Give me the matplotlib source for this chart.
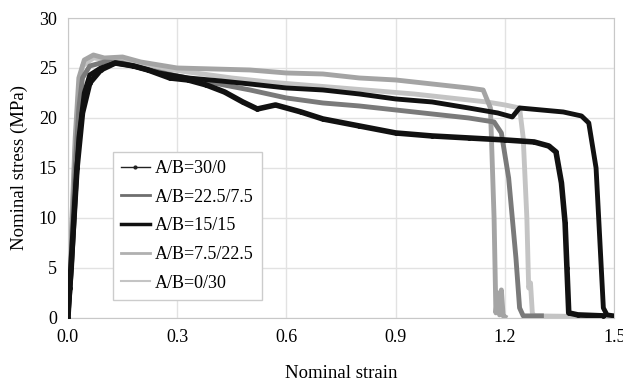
import matplotlib
matplotlib.use('Agg')
import matplotlib.pyplot as plt
from matplotlib.lines import Line2D

plt.rcParams['font.family'] = ['Liberation Serif', 'DejaVu Serif']

# A/B=30/0 (black, with markers)
strain_30_0 = [0.0, 0.005, 0.015, 0.025, 0.04, 0.06, 0.09, 0.13, 0.18, 0.22, 0.28, 0.33, 0.38,
               0.43, 0.48, 0.52, 0.57, 0.64, 0.7, 0.8, 0.9, 1.0, 1.1, 1.2, 1.28, 1.32, 1.34,
               1.355, 1.365, 1.37, 1.375, 1.4, 1.47]
stress_30_0 = [0, 3, 9, 15, 20.5, 23.5, 24.8, 25.5, 25.2, 24.8, 24.0, 23.8, 23.3,
               22.6, 21.6, 20.9, 21.3, 20.6, 19.9, 19.2, 18.5, 18.2, 18.0, 17.8, 17.6, 17.2, 16.6,
               13.5, 9.5, 5, 0.5, 0.3, 0.2]

# A/B=22.5/7.5 (mid grey)
strain_22_5 = [0.0, 0.01, 0.02, 0.03, 0.04, 0.06, 0.1, 0.15, 0.2, 0.3, 0.4, 0.5, 0.6, 0.7,
               0.8, 0.9, 1.0, 1.1, 1.17, 1.19, 1.21, 1.23, 1.24, 1.25, 1.3]
stress_22_5 = [0, 7, 15, 21, 24, 25.2, 25.6, 25.5, 25.0, 24.2, 23.5, 22.8, 22.0, 21.5,
               21.2, 20.8, 20.4, 20.0, 19.6, 18.5, 14, 6, 1, 0.2, 0.2]

# A/B=15/15 (black, thick)
strain_15_15 = [0.0, 0.01, 0.02, 0.03, 0.045, 0.06, 0.09, 0.13, 0.18, 0.25, 0.33, 0.42, 0.5,
                0.6, 0.7, 0.8, 0.9, 1.0, 1.1, 1.18, 1.22, 1.24, 1.3, 1.36, 1.41, 1.43, 1.45,
                1.46, 1.47, 1.48, 1.5]
stress_15_15 = [0, 5, 12, 18, 22.5, 24.3, 25.0, 25.5, 25.2, 24.5, 24.0, 23.7, 23.4,
                23.0, 22.8, 22.4, 21.9, 21.6, 21.0, 20.5, 20.1, 21.0, 20.8, 20.6, 20.2, 19.5, 15,
                8, 1, 0.3, 0.2]

# A/B=7.5/22.5 (light grey)
strain_7_5 = [0.0, 0.01, 0.02, 0.03, 0.045, 0.07, 0.1, 0.15, 0.2, 0.3, 0.4, 0.5, 0.6, 0.7,
              0.8, 0.9, 1.0, 1.1, 1.14, 1.16, 1.17, 1.175, 1.18, 1.185, 1.19, 1.195, 1.2]
stress_7_5 = [0, 9, 18, 24, 25.8, 26.3, 26.0, 26.1, 25.6, 25.0, 24.9, 24.8, 24.5, 24.4,
              24.0, 23.8, 23.4, 23.0, 22.8, 21, 10, 0.5, 2.5, 0.3, 2.8, 0.2, 0.1]

# A/B=0/30 (lightest grey)
strain_0_30 = [0.0, 0.01, 0.02, 0.03, 0.04, 0.07, 0.12, 0.18, 0.25, 0.35, 0.45, 0.55, 0.65,
               0.75, 0.85, 0.95, 1.05, 1.15, 1.2, 1.24, 1.25, 1.26, 1.265, 1.27, 1.275, 1.28, 1.5]
stress_0_30 = [0, 8, 17, 23, 25.2, 26.0, 25.8, 25.5, 25.0, 24.5, 24.0, 23.6, 23.3,
               23.0, 22.7, 22.4, 22.0, 21.6, 21.3, 21.0, 18, 10, 3, 3.5, 0.5, 0.2, 0.1]

labels = ['A/B=30/0', 'A/B=22.5/7.5', 'A/B=15/15', 'A/B=7.5/22.5', 'A/B=0/30']

fig = plt.figure(figsize=(6.23, 3.83), dpi=100)
ax = fig.add_axes([0.109, 0.170, 0.877, 0.783])

ax.plot(strain_0_30, stress_0_30, color='#c4c4c4', lw=3.5, zorder=2)
ax.plot(strain_7_5, stress_7_5, color='#a4a4a4', lw=3.5, zorder=2)
ax.plot(strain_22_5, stress_22_5, color='#7a7a7a', lw=3.5, zorder=3)
ax.plot(strain_15_15, stress_15_15, color='#111111', lw=3.5, zorder=4)
ax.plot(strain_30_0, stress_30_0, color='#111111', lw=4, marker='o', ms=2.5, zorder=4)

ax.set_xlim(0, 1.5)
ax.set_ylim(0, 30)
ax.set_xticks([0.0, 0.3, 0.6, 0.9, 1.2, 1.5])
ax.set_yticks([0, 5, 10, 15, 20, 25, 30])
ax.xaxis.set_major_formatter(matplotlib.ticker.FormatStrFormatter('%.1f'))
ax.tick_params(length=0, labelsize=13, pad=8)
ax.grid(color='#e2e2e2', lw=1)
ax.set_axisbelow(True)
for sp in ax.spines.values():
    sp.set_color('#c8c8c8')
ax.set_xlabel('Nominal strain', fontsize=13.5, labelpad=14)
ax.set_ylabel('Nominal stress (MPa)', fontsize=13.5, labelpad=8)

handles = [
    Line2D([], [], color='#222222', lw=1, marker='o', ms=2),
    Line2D([], [], color='#6e6e6e', lw=2),
    Line2D([], [], color='#111111', lw=2.5),
    Line2D([], [], color='#b0b0b0', lw=2),
    Line2D([], [], color='#c4c4c4', lw=1.5),
]
leg = ax.legend(handles, labels, loc='lower left', bbox_to_anchor=(0.082, 0.06),
                fontsize=13, fancybox=False, framealpha=1, edgecolor='#cccccc',
                handlelength=1.6, labelspacing=0.65, borderpad=0.45, handletextpad=0.3,
                borderaxespad=0)
leg.get_frame().set_linewidth(1)

fig.savefig('out.png', dpi=100)
